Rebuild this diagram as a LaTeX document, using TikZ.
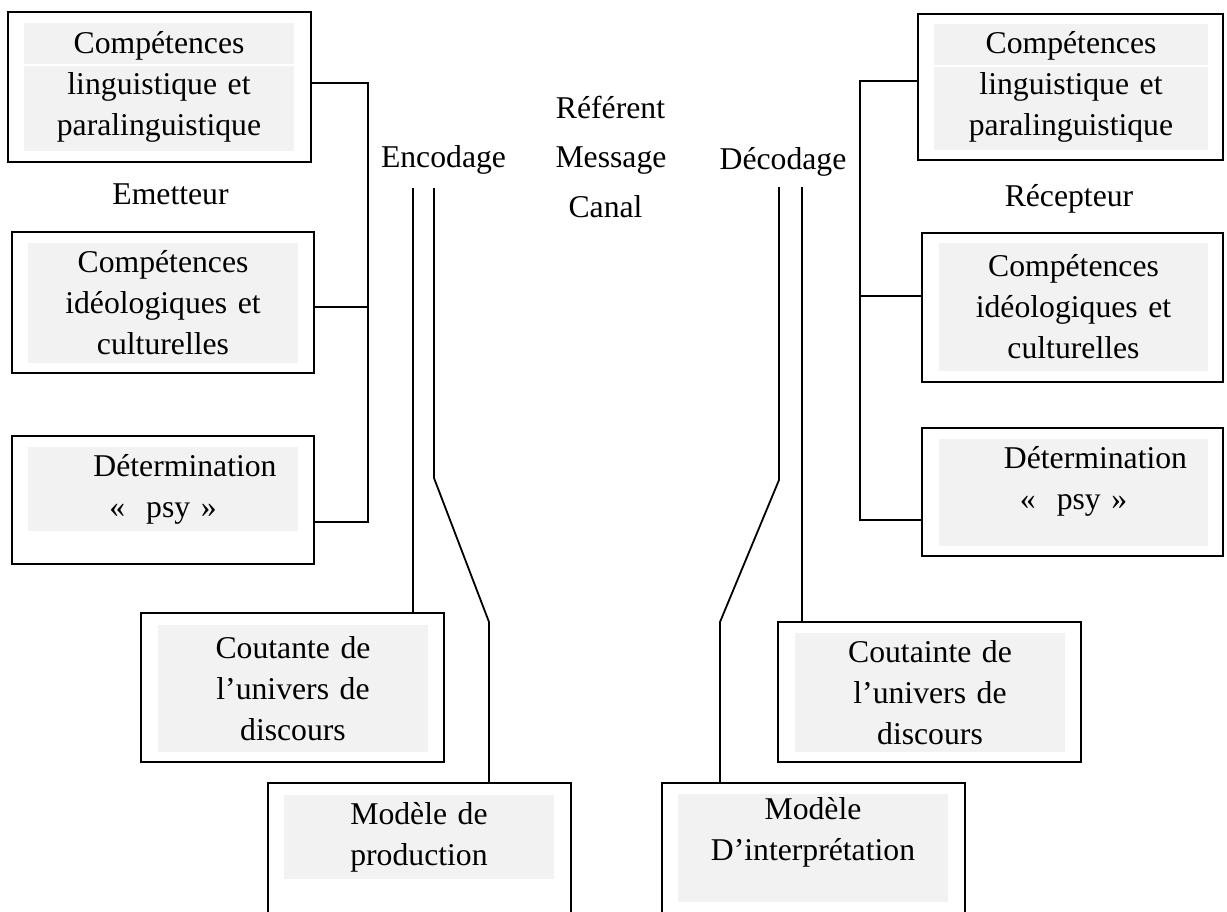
\documentclass[tikz,border=0pt]{standalone}
\usepackage{fontspec}
\setmainfont{Liberation Serif}
\usepackage{tikz}
\definecolor{boxgray}{HTML}{F2F2F2}

\begin{document}
\begin{tikzpicture}[x=0.5pt,y=-0.5pt,
    font=\fontsize{15.85}{20.5}\selectfont,
    line width=0.9pt,
    frame/.style={draw,inner sep=0pt},
    band/.style={fill=boxgray,inner sep=0pt,align=center,text width=135pt}]
        \useasboundingbox (0,0) rectangle (1227,911);

        \path
        % left
        (159.5,87) node[frame,minimum width=151.5pt,minimum height=75pt](lingE) {}
        (159,87) node[band,minimum height=64pt](lingEtxt) {Compétences\\linguistique et\\paralinguistique}
        (170.5,204) node[anchor=base](emet) {Emetteur}
        (163,302.5) node[frame,minimum width=151pt,minimum height=70.5pt](ideoE) {}
        (163,303) node[band,minimum height=60pt](ideoEtxt) {Compétences\\idéologiques et\\culturelles}
        (163,500) node[frame,minimum width=151pt,minimum height=64pt](psyE) {}
        (163,489) node[band,minimum height=42pt](psyEtxt) {\hspace*{22pt}Détermination\\«~~psy~»}
        (292.5,687.5) node[frame,minimum width=151.5pt,minimum height=74.5pt](univE) {}
        (293,688.5) node[band,minimum height=63.5pt](univEtxt) {Coutante de\\l’univers de\\discours}
        (419.5,868) node[frame,minimum width=151.5pt,minimum height=85pt](prod) {}
        (419,837) node[band,minimum height=42pt](prodtxt) {Modèle de\\production}
        (443.5,167) node[anchor=base](enc) {Encodage}

        % middle
        (610.5,118) node[anchor=base](ref) {Référent}
        (611,167) node[anchor=base](msg) {Message}
        (605.5,217) node[anchor=base](canal) {Canal}

        % right
        (783,169) node[anchor=base](dec) {Décodage}
        (1070.5,87) node[frame,minimum width=152.5pt,minimum height=73pt](lingR) {}
        (1071,87) node[band,text width=137pt,minimum height=63pt](lingRtxt) {Compétences\\linguistique et\\paralinguistique}
        (1069,206) node[anchor=base](recep) {Récepteur}
        (1072.5,307.5) node[frame,minimum width=150.5pt,minimum height=74.5pt](ideoR) {}
        (1073.5,307) node[band,text width=134.5pt,minimum height=64pt](ideoRtxt) {Compétences\\idéologiques et\\culturelles}
        (1072.5,492) node[frame,minimum width=150.5pt,minimum height=64pt](psyR) {}
        (1073.5,492.5) node[band,text width=134.5pt,minimum height=53.5pt](psyRtxt) {\hspace*{22pt}Détermination\\«~~psy~»\\[-6pt]\mbox{}}
        (929.5,692) node[frame,minimum width=151.5pt,minimum height=70pt](univR) {}
        (930,692.5) node[band,minimum height=59.5pt](univRtxt) {Coutainte de\\l’univers de\\discours}
        (813.5,868) node[frame,minimum width=151.5pt,minimum height=85pt](interp) {}
        (813,848) node[band,minimum height=54pt](interptxt) {Modèle\\D’interprétation\\[-1pt]\mbox{}}
        ;

        % white rule across the top bands
        \draw[white,line width=0.6pt] (lingEtxt.west |- 0,65) -- (lingEtxt.east |- 0,65);
        \draw[white,line width=0.6pt] (lingRtxt.west |- 0,66) -- (lingRtxt.east |- 0,66);

        \coordinate (lb1) at (368,83);
        \coordinate (lb2) at (368,307);
        \coordinate (lb3) at (368,522);
        \coordinate (enc1) at (413,188);
        \coordinate (enc2) at (434,188);
        \coordinate (enc3) at (434,478);
        \coordinate (enc4) at (489,622);
        \coordinate (dec1) at (779,187);
        \coordinate (dec2) at (779,480);
        \coordinate (dec3) at (720,622);
        \coordinate (dec4) at (802,187);
        \coordinate (rb1) at (860,81);
        \coordinate (rb2) at (860,296);
        \coordinate (rb3) at (860,520);

        \draw (lingE.east |- lb1) -- (lb1) -- (lb3) -- (psyE.east |- lb3);
        \draw (ideoE.east |- lb2) -- (lb2);
        \draw (enc1) -- (univE.north -| enc1);
        \draw (enc2) -- (enc3) -- (enc4) -- (prod.north -| enc4);

        \draw (dec1) -- (dec2) -- (dec3) -- (interp.north -| dec3);
        \draw (dec4) -- (univR.north -| dec4);
        \draw (lingR.west |- rb1) -- (rb1) -- (rb3) -- (psyR.west |- rb3);
        \draw (ideoR.west |- rb2) -- (rb2);
      \end{tikzpicture}
\end{document}
